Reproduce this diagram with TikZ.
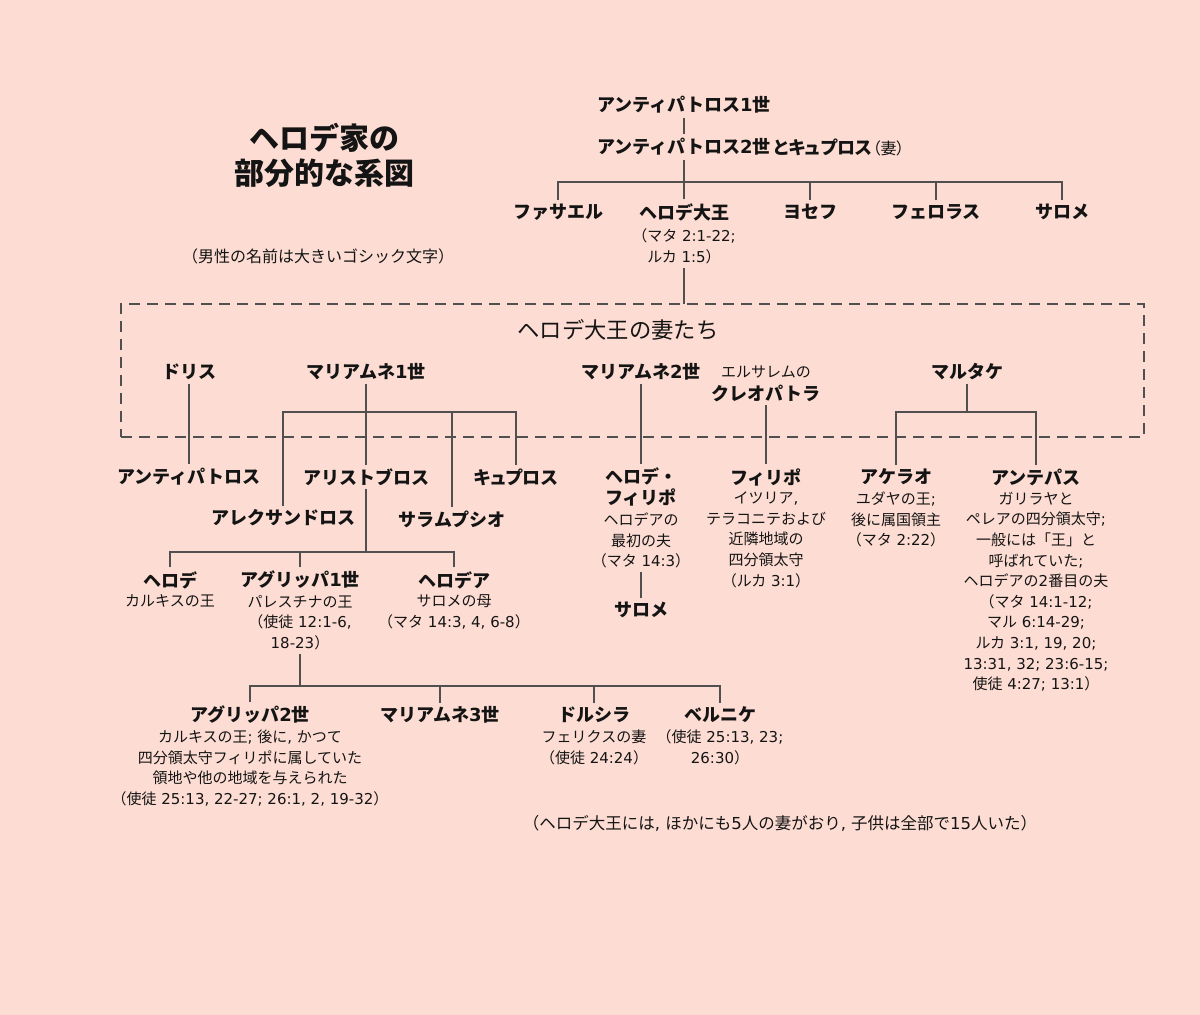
\documentclass[tikz,border=0pt]{standalone}
\usepackage{fontspec}
\setmainfont{Noto Sans CJK JP}
\newfontfamily\latfont{DejaVu Sans}
\definecolor{bgc}{RGB}{253,221,211}
\definecolor{linec}{RGB}{80,80,80}
\definecolor{txtc}{RGB}{20,20,20}
\newcommand{\paltx}{\addfontfeature{RawFeature=+palt}}
\newcommand{\lt}[1]{{\latfont #1}}
\begin{document}
\begin{tikzpicture}[x=1pt,y=-1pt,
  nm/.style={font=\bfseries\fontsize{18}{20.5}\selectfont, text=txtc, inner sep=0pt, outer sep=4pt, align=center},
  nt/.style={font=\fontsize{15}{20.6}\selectfont, text=txtc, inner sep=0pt, outer sep=4pt, align=center, anchor=north},
  ln/.style={draw=linec, line width=1.1pt},
  frame/.style={draw=linec, line width=1.1pt, dash pattern=on 11pt off 7pt}]
\fill[bgc] (0,0) rectangle (1200,1015);
\useasboundingbox (0,0) rectangle (1200,1015);

% title
\node[font=\bfseries\fontsize{30}{35}\selectfont, text=txtc, align=center] (title) at (324,155.5) {ヘロデ家の\\部分的な系図};
\node[font=\fontsize{16}{20}\selectfont, text=txtc] (legend) at (318,256) {（男性の名前は大きいゴシック文字）};

% top generations
\node[nm] (a1) at (684,105) {アンティパトロス\lt{1}世};
\node[nm] (a2) at (684,147) {アンティパトロス\lt{2}世};
\node[nm, anchor=west, inner sep=0pt, outer sep=0pt] (cyp) at ([xshift=-1pt]a2.east) {\paltx とキュプロス{\mdseries\fontsize{16}{20}\selectfont\paltx（妻）}};
\coordinate (b0) at (684,182);
\node[nm] (phas) at (558,212) {ファサエル};
\node[nm] (herod) at (684,212) {ヘロデ大王};
\node[nt] (herodn) at (684,225) {（マタ\lt{ 2:1-22;}\\ルカ\lt{ 1:5}）};
\node[nm] (jos) at (810,212) {ヨセフ};
\node[nm] (pher) at (936,212) {フェロラス};
\node[nm] (salo) at (1062,212) {サロメ};

\draw[ln] (a1) -- (a2);
\draw[ln] (a2.south) -- (herod.north);
\draw[ln] (phas.north) |- (salo.north |- b0) -- (salo.north);
\draw[ln] (jos.north) -- (jos.north |- b0);
\draw[ln] (pher.north) -- (pher.north |- b0);

% wives frame
\node[frame, minimum width=1023pt, minimum height=133pt, inner sep=0pt, outer sep=0pt] (wives) at (632.5,370.5) {};
\node[font=\fontsize{22.3}{24}\selectfont, text=txtc] (wivest) at (618,330) {ヘロデ大王の妻たち};
\draw[ln] (herodn.south) -- (herodn.south |- wives.north);

\node[nm] (doris) at (189,372) {ドリス};
\node[nm] (m1) at (366,372) {マリアムネ\lt{1}世};
\node[nm] (m2) at (641,372) {マリアムネ\lt{2}世};
\node[font=\fontsize{15}{20}\selectfont, text=txtc, inner sep=0pt] (jer) at (766,372) {エルサレムの};
\node[nm] (cleo) at (766,393) {クレオパトラ};
\node[nm] (malt) at (967,372) {マルタケ};

% children of wives
\node[nm] (antp) at (189,477) {アンティパトロス};
\node[nm] (alex) at (283,518) {アレクサンドロス};
\node[nm] (arist) at (366,477) {アリストブロス};
\node[nm] (salam) at (452,519) {サラムプシオ};
\node[nm] (kyp) at (516,477) {\paltx キュプロス};
\coordinate (b1) at (366,412);

\node[nm] (hp) at (641,487) {ヘロデ・\\フィリポ};
\node[nt] (hpn) at (641,509) {ヘロデアの\\最初の夫\\（マタ\lt{ 14:3}）};
\node[nm] (salome2) at (641,610) {サロメ};

\node[nm] (phil) at (766,477) {フィリポ};
\node[nt] (philn) at (766,488) {イツリア\lt{,}\\テラコニテおよび\\近隣地域の\\四分領太守\\（ルカ\lt{ 3:1}）};

\node[nm] (arch) at (896,477) {アケラオ};
\node[nt] (archn) at (896,488) {ユダヤの王\lt{;}\\後に属国領主\\（マタ\lt{ 2:22}）};
\node[nm] (antip) at (1036,477) {アンテパス};
\node[nt] (antipn) at (1036,488) {ガリラヤと\\ペレアの四分領太守\lt{;}\\一般には「王」と\\呼ばれていた\lt{;}\\ヘロデアの\lt{2}番目の夫\\（マタ\lt{ 14:1-12;}\\マル\lt{ 6:14-29;}\\ルカ\lt{ 3:1, 19, 20;}\\\lt{13:31, 32; 23:6-15;}\\使徒\lt{ 4:27; 13:1}）};
\coordinate (b2) at (967,412);

\draw[ln] (doris) -- (antp);
\draw[ln] (m1) -- (arist);
\draw[ln] (alex.north) |- (kyp.north |- b1) -- (kyp.north);
\draw[ln] (salam.north) -- (salam.north |- b1);
\draw[ln] (m2) -- (hp);
\draw[ln] (hpn.south) -- (salome2.north);
\draw[ln] (cleo) -- (phil);
\draw[ln] (malt.south) -- (malt.south |- b2);
\draw[ln] (arch.north) |- (antip.north |- b2) -- (antip.north);

% Aristobulus' children
\coordinate (b3) at (366,552);
\node[nm] (herodc) at (170,580) {ヘロデ};
\node[nt] (herodcn) at (170,591) {カルキスの王};
\node[nm] (agr1) at (300,580) {アグリッパ\lt{1}世};
\node[nt] (agr1n) at (300,591) {パレスチナの王\\（使徒\lt{ 12:1-6,}\\\lt{18-23}）};
\node[nm] (hrd) at (454,580) {ヘロデア};
\node[nt] (hrdn) at (454,591) {サロメの母\\（マタ\lt{ 14:3, 4, 6-8}）};
\draw[ln] (arist.south) -- (arist.south |- b3);
\draw[ln] (herodc.north) |- (hrd.north |- b3) -- (hrd.north);
\draw[ln] (agr1.north) -- (agr1.north |- b3);

% Agrippa I's children
\coordinate (b4) at (300,686);
\node[nm] (agr2) at (250,715) {アグリッパ\lt{2}世};
\node[nt] (agr2n) at (250,726) {カルキスの王\lt{; }後に\lt{, }かつて\\四分領太守フィリポに属していた\\領地や他の地域を与えられた\\（使徒\lt{ 25:13, 22-27; 26:1, 2, 19-32}）};
\node[nm] (mar3) at (440,715) {マリアムネ\lt{3}世};
\node[nm] (drus) at (594,715) {ドルシラ};
\node[nt] (drusn) at (594,726) {フェリクスの妻\\（使徒\lt{ 24:24}）};
\node[nm] (bern) at (720,715) {ベルニケ};
\node[nt] (bernn) at (720,726) {（使徒\lt{ 25:13, 23;}\\\lt{26:30}）};
\draw[ln] (agr1n.south) -- (agr1n.south |- b4);
\draw[ln] (agr2.north) |- (bern.north |- b4) -- (bern.north);
\draw[ln] (mar3.north) -- (mar3.north |- b4);
\draw[ln] (drus.north) -- (drus.north |- b4);

% footnote
\node[font=\fontsize{16.5}{20}\selectfont, text=txtc] (foot) at (780,823) {（ヘロデ大王には\lt{, }ほかにも\lt{5}人の妻がおり\lt{, }子供は全部で\lt{15}人いた）};
\end{tikzpicture}
\end{document}
